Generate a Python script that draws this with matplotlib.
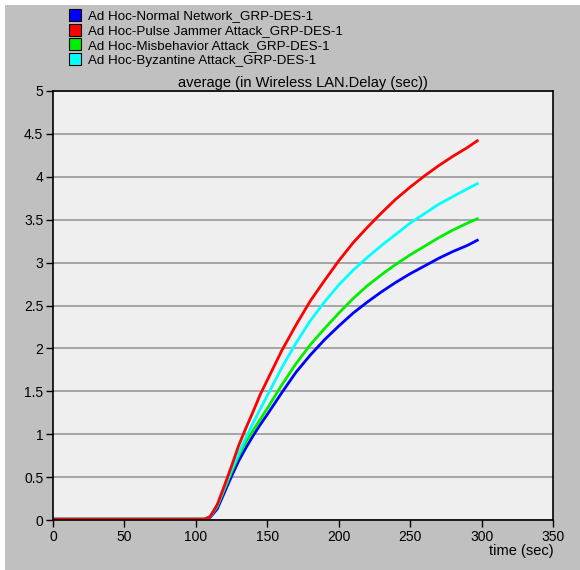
import matplotlib
matplotlib.use("Agg")
from matplotlib import pyplot as plt
from matplotlib.lines import Line2D
from matplotlib.patches import Rectangle
from matplotlib.ticker import FormatStrFormatter

# time axis (sec), shared by all series
t = [0, 100, 106, 110, 115, 120, 125, 130, 135, 140, 145, 150, 160, 170, 180,
     190, 200, 210, 220, 230, 240, 250, 260, 270, 280, 290, 297]

normal = [0.01, 0.01, 0.01, 0.03, 0.13, 0.32, 0.51, 0.69, 0.84, 0.98, 1.11, 1.23,
          1.48, 1.72, 1.92, 2.10, 2.26, 2.41, 2.54, 2.66, 2.77, 2.87, 2.96, 3.05,
          3.13, 3.20, 3.26]
jammer = [0.01, 0.01, 0.01, 0.04, 0.18, 0.40, 0.63, 0.87, 1.07, 1.26, 1.46, 1.63,
          1.97, 2.27, 2.55, 2.79, 3.02, 3.23, 3.41, 3.58, 3.74, 3.88, 4.01, 4.13,
          4.24, 4.34, 4.42]
misbehavior = [0.01, 0.01, 0.01, 0.04, 0.16, 0.36, 0.56, 0.75, 0.91, 1.04, 1.17,
               1.30, 1.57, 1.82, 2.04, 2.23, 2.41, 2.58, 2.73, 2.86, 2.98, 3.09,
               3.19, 3.29, 3.38, 3.46, 3.51]
byzantine = [0.01, 0.01, 0.01, 0.04, 0.17, 0.38, 0.59, 0.78, 0.96, 1.13, 1.29,
             1.45, 1.77, 2.06, 2.32, 2.54, 2.74, 2.91, 3.06, 3.20, 3.33, 3.46,
             3.57, 3.68, 3.77, 3.86, 3.92]

names = ["Ad Hoc-Normal Network_GRP-DES-1",
         "Ad Hoc-Pulse Jammer Attack_GRP-DES-1",
         "Ad Hoc-Misbehavior Attack_GRP-DES-1",
         "Ad Hoc-Byzantine Attack_GRP-DES-1"]
colors = ["#0000ff", "#ff0000", "#00ee00", "#00ffff"]
series = [normal, jammer, misbehavior, byzantine]
draw_order = [0, 2, 3, 1]

x_ticks = [0, 50, 100, 150, 200, 250, 300, 350]
y_ticks = [0, 0.5, 1, 1.5, 2, 2.5, 3, 3.5, 4, 4.5, 5]

plt.rcParams['font.family'] = ['Liberation Sans', 'DejaVu Sans']

fig = plt.figure(figsize=(5.8, 5.7), dpi=100, facecolor="white")
# gray panel, with a thin white margin on the left and top
fig.patches.append(Rectangle((5 / 580, 0), 1, 1 - 5 / 570, transform=fig.transFigure,
                             facecolor="#c0c0c0", edgecolor="none", zorder=-10))

ax = fig.add_axes([53 / 580, 50 / 570, 500 / 580, 429 / 570])
ax.set_facecolor("#efefef")

for i in draw_order:
    ax.plot(t, series[i], color=colors[i], lw=2.0, solid_joinstyle="round")

ax.set_xlim(0, 350)
ax.set_ylim(0, 5)
ax.set_xticks(x_ticks)
ax.set_yticks(y_ticks)
ax.yaxis.set_major_formatter(FormatStrFormatter('%g'))
ax.grid(axis="y", color="#a0a0a0", lw=1.3)
ax.set_axisbelow(True)
ax.tick_params(direction="out", length=5, width=1, labelsize=10, colors="black",
               pad=2)
for s in ax.spines.values():
    s.set_color("black")
    s.set_linewidth(1.2)

ax.set_title("average (in Wireless LAN.Delay (sec))", fontsize=10.5, pad=3)
fig.text(554 / 580, 1 - 551 / 570, "time (sec)", ha="right", va="center", fontsize=10.5)

handles = [Line2D([], [], ls="none", marker="s", markersize=8, markerfacecolor=c,
                  markeredgecolor="black", markeredgewidth=0.8) for c in colors]
fig.legend(handles, names, loc="upper left", bbox_to_anchor=(69 / 580, 1 - 10 / 570),
           frameon=False, fontsize=9.6, handlelength=0.9, handletextpad=0.5,
           labelspacing=0.19, borderpad=0, borderaxespad=0)

fig.savefig("out.png", dpi=100, facecolor=fig.get_facecolor())
